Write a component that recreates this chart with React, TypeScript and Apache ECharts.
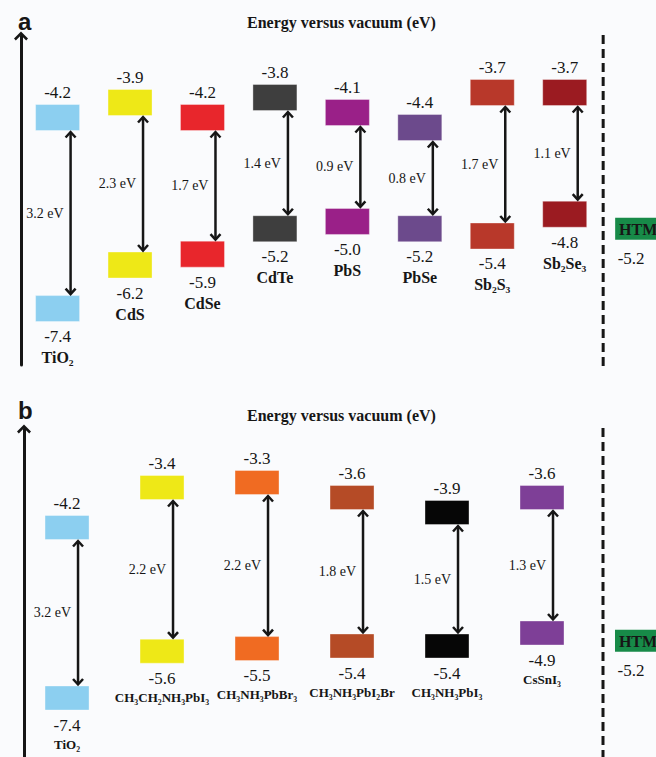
import React, { useEffect, useRef } from 'react';
import * as echarts from 'echarts';

// ---------- data ----------
const titleText = 'Energy versus vacuum (eV)';

// panel a
const namesA = ['TiO₂', 'CdS', 'CdSe', 'CdTe', 'PbS', 'PbSe', 'Sb₂S₃', 'Sb₂Se₃'];
const cbA = [-4.2, -3.9, -4.2, -3.8, -4.1, -4.4, -3.7, -3.7];
const vbA = [-7.4, -6.2, -5.9, -5.2, -5.0, -5.2, -5.4, -4.8];

// panel b
const namesB = ['TiO₂', 'CH₃CH₂NH₃PbI₃', 'CH₃NH₃PbBr₃', 'CH₃NH₃PbI₂Br', 'CH₃NH₃PbI₃', 'CsSnI₃'];
const cbB = [-4.2, -3.4, -3.3, -3.6, -3.9, -3.6];
const vbB = [-7.4, -5.6, -5.5, -5.4, -5.4, -4.9];

const htmName = 'HTM';
const htmLevel = -5.2;

// ---------- styles ----------
const colorsA = ['#8ccff0', '#eee817', '#e8262c', '#3e3e3e', '#9a2088', '#6c4a8c', '#b8382a', '#9b1b21'];
const colorsB = ['#8ccff0', '#eee817', '#f06b22', '#b54b26', '#060606', '#7e3f97'];
const htmColor = '#178a48';
const ink = '#161616';
const SERIF = 'Liberation Serif';
const SANS = 'Liberation Sans';
const BOX_W = 44;

type Panel = {
  names: string[];
  cb: number[];
  vb: number[];
  colors: string[];
  grid: { left: number; top: number; height: number };
  xRange: [number, number];
  cbRange: [number, number];
  vbRange: [number, number];
  boxH: number;
  arrowDx: number;
  nameSize: number;
  nameGap: number;
  valueSize: number;
  gapSize: number;
  letter: string;
  letterTop: number;
  titleTop: number;
};

const panels: Panel[] = [
  {
    names: namesA, cb: cbA, vb: vbA, colors: colorsA,
    grid: { left: 21, top: 36, height: 329 },
    xRange: [-0.505, 8.26],
    cbRange: [-9.15, -2.57],
    vbRange: [-8.954, 0.109],
    boxH: 26, arrowDx: 13, nameSize: 16, nameGap: 21, valueSize: 17, gapSize: 14,
    letter: 'a', letterTop: 4, titleTop: 9,
  },
  {
    names: namesB, cb: cbB, vb: vbB, colors: colorsB,
    grid: { left: 24, top: 429, height: 328 },
    xRange: [-0.453, 6.2],
    cbRange: [-8.79, -2.23],
    vbRange: [-9.669, 2.946],
    boxH: 24, arrowDx: 11, nameSize: 13, nameGap: 19, valueSize: 17, gapSize: 14,
    letter: 'b', letterTop: 393, titleTop: 402,
  },
];

const arrowHead = 'path://M0,0 L7,7 L5.2,8.8 L0,3.6 L-5.2,8.8 L-7,7 Z';

function buildOption() {
  const grid: any[] = [];
  const xAxis: any[] = [];
  const yAxis: any[] = [];
  const series: any[] = [];
  const title: any[] = [];

  panels.forEach((p, g) => {
    grid.push({ left: p.grid.left, top: p.grid.top, height: p.grid.height, right: 0, containLabel: false });
    xAxis.push({ type: 'value', gridIndex: g, min: p.xRange[0], max: p.xRange[1], show: false });
    const cbIdx = yAxis.length;
    yAxis.push({
      type: 'value', gridIndex: g, min: p.cbRange[0], max: p.cbRange[1], position: 'left',
      axisLine: { show: true, onZero: false, symbol: ['none', arrowHead], symbolSize: [14, 9], lineStyle: { color: ink, width: 3 } },
      axisTick: { show: false }, axisLabel: { show: false }, splitLine: { show: false },
    });
    const vbIdx = yAxis.length;
    yAxis.push({ type: 'value', gridIndex: g, min: p.vbRange[0], max: p.vbRange[1], show: false, splitLine: { show: false } });

    title.push({ text: p.letter, left: 13, top: p.letterTop, textStyle: { fontFamily: SANS, fontWeight: 'bold', fontSize: 24, color: ink } });
    title.push({ text: titleText, left: 242, top: p.titleTop, textStyle: { fontFamily: SERIF, fontWeight: 'bold', fontSize: 16, color: ink } });

    const vbToCb = (v: number) =>
      p.cbRange[0] + ((v - p.vbRange[0]) * (p.cbRange[1] - p.cbRange[0])) / (p.vbRange[1] - p.vbRange[0]);
    const h = p.boxH;

    // conduction band boxes
    series.push({
      type: 'custom', xAxisIndex: g, yAxisIndex: cbIdx, silent: true,
      data: p.cb.map((v, i) => [i, v]),
      renderItem: (params: any, api: any) => {
        const i = params.dataIndex;
        const v = api.value(1);
        const [x, y] = api.coord([api.value(0), v]);
        return {
          type: 'group',
          children: [
            { type: 'rect', shape: { x: x - BOX_W / 2, y: y - h / 2, width: BOX_W, height: h }, style: { fill: p.colors[i], stroke: 'rgba(255,255,255,0.35)', lineWidth: 1 } },
            { type: 'text', x, y: y - h / 2 - 12.5, style: { text: v.toFixed(1), fill: ink, fontSize: p.valueSize, fontFamily: SERIF, align: 'center', verticalAlign: 'middle' } },
          ],
        };
      },
    });

    // valence band boxes
    series.push({
      type: 'custom', xAxisIndex: g, yAxisIndex: vbIdx, silent: true,
      data: p.vb.map((v, i) => [i, v]),
      renderItem: (params: any, api: any) => {
        const i = params.dataIndex;
        const v = api.value(1);
        const [x, y] = api.coord([api.value(0), v]);
        const labelY = y + h / 2 + 15;
        return {
          type: 'group',
          children: [
            { type: 'rect', shape: { x: x - BOX_W / 2, y: y - h / 2, width: BOX_W, height: h }, style: { fill: p.colors[i], stroke: 'rgba(255,255,255,0.35)', lineWidth: 1 } },
            { type: 'text', x, y: labelY, style: { text: v.toFixed(1), fill: ink, fontSize: p.valueSize, fontFamily: SERIF, align: 'center', verticalAlign: 'middle' } },
            { type: 'text', x, y: labelY + p.nameGap, style: { text: p.names[i], fill: ink, fontSize: p.nameSize, fontWeight: 'bold', fontFamily: SERIF, align: 'center', verticalAlign: 'middle' } },
          ],
        };
      },
    });

    // band-gap arrows
    series.push({
      type: 'custom', xAxisIndex: g, yAxisIndex: cbIdx, silent: true,
      data: p.cb.map((v, i) => [i, v, p.vb[i]]),
      renderItem: (params: any, api: any) => {
        const cb = api.value(1);
        const vb = api.value(2);
        const top = api.coord([api.value(0), cb]);
        const bot = api.coord([api.value(0), vbToCb(vb)]);
        const x = top[0] + p.arrowDx;
        const y1 = top[1] + h / 2 + 1;
        const y2 = bot[1] - h / 2 - 1;
        const st = { stroke: ink, lineWidth: 2.5, fill: 'none', lineJoin: 'miter' };
        return {
          type: 'group',
          children: [
            { type: 'line', shape: { x1: x, y1: y1 + 1, x2: x, y2: y2 - 1 }, style: st },
            { type: 'polyline', shape: { points: [[x - 5, y1 + 6], [x, y1 + 0.5], [x + 5, y1 + 6]] }, style: st },
            { type: 'polyline', shape: { points: [[x - 5, y2 - 6], [x, y2 - 0.5], [x + 5, y2 - 6]] }, style: st },
            { type: 'text', x: x - 7, y: (y1 + y2) / 2, style: { text: (cb - vb).toFixed(1) + ' eV', fill: ink, fontSize: p.gapSize, fontFamily: SERIF, align: 'right', verticalAlign: 'middle' } },
          ],
        };
      },
    });

    // HTM level and separator
    series.push({
      type: 'custom', xAxisIndex: g, yAxisIndex: vbIdx, silent: true,
      data: [[p.names.length, htmLevel]],
      renderItem: (params: any, api: any) => {
        const v = api.value(1);
        const [x, y] = api.coord([api.value(0), v]);
        const cs = params.coordSys;
        const hh = 22;
        const sx = x - 34;
        return {
          type: 'group',
          children: [
            { type: 'line', shape: { x1: sx, y1: cs.y - 1, x2: sx, y2: cs.y + cs.height + 5 }, style: { stroke: ink, lineWidth: 3, lineDash: [9, 5] } },
            { type: 'rect', shape: { x: x - BOX_W / 2, y: y - hh / 2, width: BOX_W, height: hh }, style: { fill: htmColor } },
            { type: 'text', x: x + 1, y: y + 1, style: { text: htmName, fill: ink, fontSize: 16, fontWeight: 'bold', fontFamily: SERIF, align: 'center', verticalAlign: 'middle' } },
            { type: 'text', x: x - 6, y: y + hh / 2 + 19, style: { text: v.toFixed(1), fill: ink, fontSize: p.valueSize, fontFamily: SERIF, align: 'center', verticalAlign: 'middle' } },
          ],
        };
      },
    });
  });

  return { animation: false, backgroundColor: '#fafbfd', title, grid, xAxis, yAxis, series };
}

export default function App() {
  const ref = useRef<HTMLDivElement>(null);
  useEffect(() => {
    if (!ref.current) return;
    const chart = echarts.init(ref.current, undefined, { renderer: 'svg' });
    chart.setOption(buildOption() as any);
    return () => chart.dispose();
  }, []);
  return <div ref={ref} style={{ position: 'absolute', left: 0, top: 0, width: 656, height: 757 }} />;
}
